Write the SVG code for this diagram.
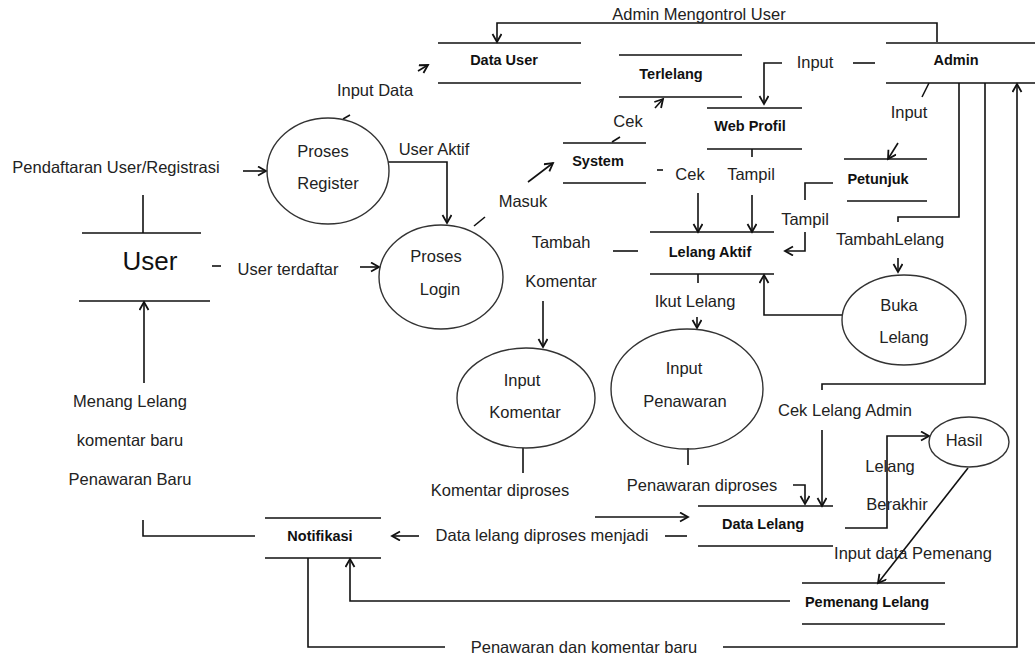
<svg xmlns="http://www.w3.org/2000/svg" width="1035" height="659" viewBox="0 0 1035 659">
  <defs>
    <marker id="arr" markerUnits="userSpaceOnUse" markerWidth="12" markerHeight="12" refX="9" refY="5" orient="auto">
      <path d="M1,0.5 L9,5 L1,9.5" fill="none" stroke="#111" stroke-width="1.8"/>
    </marker>
    <style>
      .st { stroke: #111; stroke-width: 1.6; fill: none; }
      .pr { stroke: #333; stroke-width: 1.4; fill: none; }
      .ln { stroke: #111; stroke-width: 1.6; fill: none; }
      .ar { stroke: #111; stroke-width: 1.6; fill: none; marker-end: url(#arr); }
      text { font-family: "Liberation Sans", Arial, sans-serif; fill: #222; }
      .t { font-size: 16.5px; text-anchor: middle; }
      .b { font-size: 14.5px; font-weight: bold; text-anchor: middle; fill: #111; }
    </style>
  </defs>
  <rect width="1035" height="659" fill="#fff"/>

  <!-- connectors -->
  <g id="connectors">
    <!-- Admin controls user data -->
    <path class="ar" d="M937,42 V23 H497 V42"/>
    <!-- Input Data -->
    <path class="ln" d="M343,119 L350,115"/>
    <path class="ar" d="M418,71 L428,65"/>
    <!-- registration -->
    <path class="ar" d="M243,171 H266"/>
    <path class="ln" d="M143,195 V233"/>
    <!-- User Aktif -->
    <path class="ar" d="M388,162 H447 V223"/>
    <!-- User terdaftar -->
    <path class="ln" d="M212,266 H221"/>
    <path class="ar" d="M360,267 H379"/>
    <!-- Masuk -->
    <path class="ln" d="M474,226 L485,217"/>
    <path class="ar" d="M528,182 L553,163"/>
    <!-- System checks Terlelang -->
    <path class="ln" d="M612,142 L620,137"/>
    <path class="ar" d="M655,108 L663,99"/>
    <!-- Admin input to Web Profil -->
    <path class="ln" d="M875,63 H853"/>
    <path class="ar" d="M782,63 H764 V104"/>
    <!-- Admin input to Petunjuk -->
    <path class="ln" d="M929,83 L922,97"/>
    <path class="ar" d="M898,143 L888,159"/>
    <!-- Cek to Lelang Aktif -->
    <path class="ln" d="M657,170 H663"/>
    <path class="ar" d="M698,193 V232"/>
    <!-- Web Profil shows Lelang Aktif -->
    <path class="ln" d="M752,149 V157"/>
    <path class="ar" d="M752,195 V232"/>
    <!-- Petunjuk shows Lelang Aktif -->
    <path class="ln" d="M833,183 H805 V200"/>
    <path class="ar" d="M805,232 V251 H785"/>
    <!-- Tambah Komentar -->
    <path class="ln" d="M613,251 H638"/>
    <path class="ar" d="M543,301 V347"/>
    <!-- Ikut Lelang -->
    <path class="ln" d="M698,274 V283"/>
    <path class="ar" d="M697,317 V328"/>
    <!-- Buka Lelang to Lelang Aktif -->
    <path class="ar" d="M842,315 H764 V275"/>
    <!-- TambahLelang -->
    <path class="ln" d="M959,83 V217 H898 V222"/>
    <path class="ar" d="M898,258 V272"/>
    <!-- Cek Lelang Admin -->
    <path class="ln" d="M985,83 V384 H822 V390"/>
    <path class="ar" d="M822,430 V506"/>
    <!-- Penawaran dan komentar baru -->
    <path class="ln" d="M308,558 V647 H445"/>
    <path class="ar" d="M723,647 H1017 V84"/>
    <!-- Pemenang Lelang to Notifikasi -->
    <path class="ar" d="M790,601 H350 V559"/>
    <!-- Notifikasi to User -->
    <path class="ln" d="M255,536 H143 V520"/>
    <path class="ar" d="M144,383 V302"/>
    <!-- Komentar diproses -->
    <path class="ln" d="M523,448 V473"/>
    <path class="ar" d="M595,517 H688"/>
    <!-- Penawaran diproses -->
    <path class="ln" d="M688,448 V465"/>
    <path class="ar" d="M793,485 H805 V504"/>
    <!-- Data lelang diproses menjadi -->
    <path class="ln" d="M665,536 H687"/>
    <path class="ar" d="M419,536 H392"/>
    <!-- Lelang Berakhir -->
    <path class="ar" d="M845,528 H887 V436 H929"/>
    <!-- Input data Pemenang -->
    <path class="ar" d="M968,468 L878,583"/>
  </g>

  <!-- data stores -->
  <g id="data-user"><path class="st" d="M438,43 H581 M438,83 H581"/><text class="b" x="504" y="65">Data User</text></g>
  <g id="terlelang"><path class="st" d="M619,55 H742 M619,97 H742"/><text class="b" x="671" y="79">Terlelang</text></g>
  <g id="web-profil"><path class="st" d="M707,108 H802 M707,149 H802"/><text class="b" x="750" y="131">Web Profil</text></g>
  <g id="admin"><path class="st" d="M886,43 H1035 M886,83 H1035"/><text class="b" x="956" y="65">Admin</text></g>
  <g id="system"><path class="st" d="M563,143 H646 M563,183 H646"/><text class="b" x="598" y="166">System</text></g>
  <g id="petunjuk"><path class="st" d="M844,159 H927 M847,201 H927"/><text class="b" x="878" y="184">Petunjuk</text></g>
  <g id="lelang-aktif"><path class="st" d="M650,232 H774 M650,274 H774"/><text class="b" x="710" y="257">Lelang Aktif</text></g>
  <g id="user"><path class="st" d="M82,233 H201 M79,301 H210"/><text x="150" y="270" style="font-size:26px;text-anchor:middle;fill:#111">User</text></g>
  <g id="data-lelang"><path class="st" d="M698,506 H833 M698,546 H833"/><text class="b" x="763" y="529">Data Lelang</text></g>
  <g id="notifikasi"><path class="st" d="M265,518 H381 M265,558 H381"/><text class="b" x="320" y="541">Notifikasi</text></g>
  <g id="pemenang-lelang"><path class="st" d="M802,583 H945 M802,624 H945"/><text class="b" x="867" y="607">Pemenang Lelang</text></g>

  <!-- processes -->
  <g id="proses-register"><ellipse class="pr" cx="328" cy="171" rx="61" ry="53"/><text class="t" x="323" y="157">Proses</text><text class="t" x="328" y="189">Register</text></g>
  <g id="proses-login"><ellipse class="pr" cx="441" cy="277" rx="62" ry="52"/><text class="t" x="436" y="262">Proses</text><text class="t" x="440" y="295">Login</text></g>
  <g id="input-komentar"><ellipse class="pr" cx="526" cy="398" rx="69" ry="50"/><text class="t" x="522" y="386">Input</text><text class="t" x="525" y="418">Komentar</text></g>
  <g id="input-penawaran"><ellipse class="pr" cx="687" cy="389" rx="76" ry="60"/><text class="t" x="684" y="374">Input</text><text class="t" x="685" y="407">Penawaran</text></g>
  <g id="buka-lelang"><ellipse class="pr" cx="904" cy="320" rx="62" ry="45"/><text class="t" x="899" y="311">Buka</text><text class="t" x="904" y="343">Lelang</text></g>
  <g id="hasil"><ellipse class="pr" cx="969" cy="442" rx="40" ry="25"/><text class="t" x="964" y="446">Hasil</text></g>

  <!-- flow labels -->
  <g id="labels">
    <text class="t" x="699" y="20">Admin Mengontrol User</text>
    <text class="t" x="375" y="96">Input Data</text>
    <text class="t" x="116" y="173">Pendaftaran User/Registrasi</text>
    <text class="t" x="434" y="155">User Aktif</text>
    <text class="t" x="523" y="207">Masuk</text>
    <text class="t" x="628" y="127">Cek</text>
    <text class="t" x="815" y="68">Input</text>
    <text class="t" x="909" y="118">Input</text>
    <text class="t" x="690" y="180">Cek</text>
    <text class="t" x="751" y="180">Tampil</text>
    <text class="t" x="805" y="225">Tampil</text>
    <text class="t" x="890" y="245">TambahLelang</text>
    <text class="t" x="561" y="248">Tambah</text>
    <text class="t" x="561" y="287">Komentar</text>
    <text class="t" x="695" y="307">Ikut Lelang</text>
    <text class="t" x="288" y="275">User terdaftar</text>
    <text class="t" x="130" y="407">Menang Lelang</text>
    <text class="t" x="130" y="446">komentar baru</text>
    <text class="t" x="130" y="485">Penawaran Baru</text>
    <text class="t" x="845" y="416">Cek Lelang Admin</text>
    <text class="t" x="890" y="472">Lelang</text>
    <text class="t" x="897" y="510">Berakhir</text>
    <text class="t" x="500" y="496">Komentar diproses</text>
    <text class="t" x="702" y="491">Penawaran diproses</text>
    <text class="t" x="542" y="541">Data lelang diproses menjadi</text>
    <text class="t" x="913" y="559">Input data Pemenang</text>
    <text class="t" x="584" y="653">Penawaran dan komentar baru</text>
  </g>
</svg>
